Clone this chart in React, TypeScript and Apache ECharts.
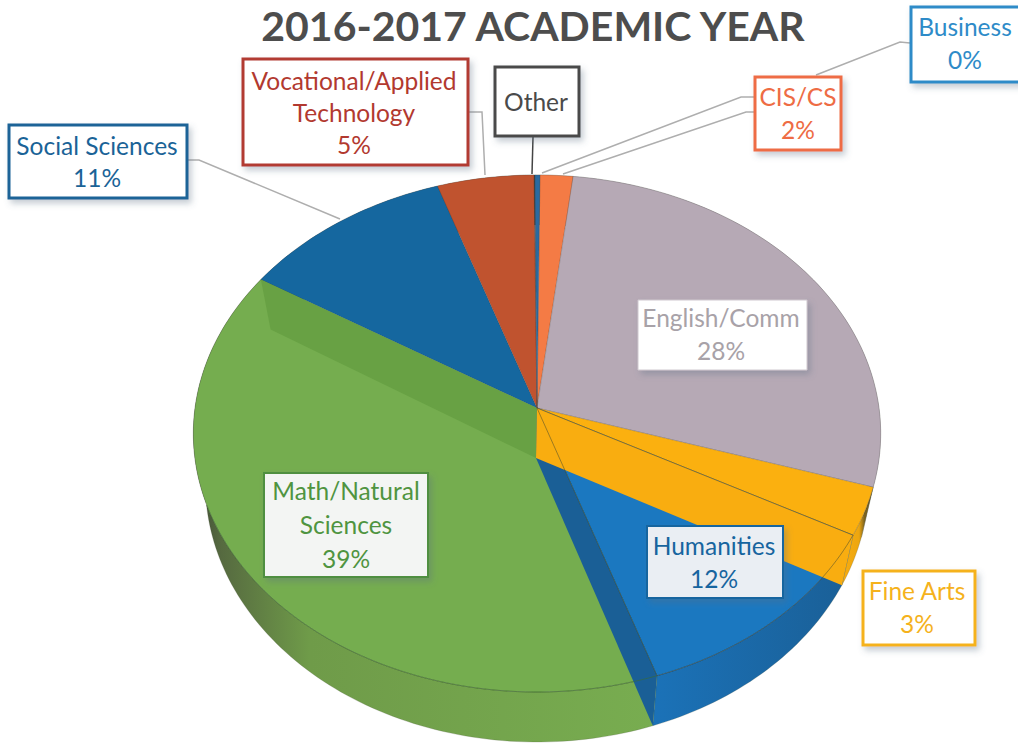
import React, { useEffect, useRef } from "react";
import * as echarts from "echarts";

const title = "2016-2017 ACADEMIC YEAR";
// Share of each slice, clockwise from the top. The two near-zero slivers are estimated.
const categories = ["CIS/CS", "English/Comm", "Fine Arts", "Humanities", "Math/Natural Sciences", "Social Sciences", "Vocational/Applied Technology", "Other", "Business"];
const values = [1.7, 28, 3, 12, 39, 11, 5, 0.05, 0.25];
const percentLabels = ["2%", "28%", "3%", "12%", "39%", "11%", "5%", "", "0%"];
const startShare = 0.15;
const topColors = ["#f47b45", "#b6a9b5", "#fbb00f", "#1b78c0", "#75ad4f", "#15679f", "#c0532f", "#444444", "#2a6aa0"];
const wallColors = ["", "", "#f9ad10", "#1a5f96", "#68a144", "", "", "", ""];

const FONT = "Lato, Carlito, 'Open Sans', sans-serif";

// Projection of the tilted disc
const G = { cx: 537, topY: 408, botY: 458, A: 342, Abot: 330, B: 256, p: 0.0986, depth: 50 };
const rim = (share: number, bottom: boolean): number[] => {
  const t = (share / 100) * Math.PI * 2;
  const X = Math.sin(t);
  const Y = Math.cos(t);
  const w = 1 + G.p * Y;
  return [G.cx + ((bottom ? G.Abot : G.A) * X) / w, (bottom ? G.botY : G.topY) - (G.B * Y) / w];
};
const arc = (a: number, b: number, bottom: boolean): number[][] => {
  const n = Math.max(2, Math.ceil((b - a) * 3));
  const out: number[][] = [];
  for (let i = 0; i <= n; i++) out.push(rim(a + ((b - a) * i) / n, bottom));
  return out;
};

const starts: number[] = [];
values.reduce((acc, v, i) => {
  starts[i] = acc;
  return acc + v;
}, startShare);
const sliceData = values.map((v, i) => ({ name: categories[i], value: [starts[i], starts[i] + v, i] }));

const stripFill = (i: number): any => {
  if (categories[i] === "Math/Natural Sciences")
    return new echarts.graphic.LinearGradient(0, 0, 1, 0, [
      { offset: 0, color: "#3f4a35" },
      { offset: 0.06, color: "#566a40" },
      { offset: 0.25, color: "#6f9b49" },
      { offset: 1, color: "#78ad50" },
    ]);
  if (categories[i] === "Humanities")
    return new echarts.graphic.LinearGradient(0, 0, 1, 0, [
      { offset: 0, color: "#1b72b8" },
      { offset: 1, color: "#1a5f96" },
    ]);
  if (categories[i] === "Fine Arts")
    return new echarts.graphic.LinearGradient(0, 0, 1, 0, [
      { offset: 0, color: "#f9ad10" },
      { offset: 0.55, color: "#eca60f" },
      { offset: 0.72, color: "#7d6320" },
      { offset: 1, color: "#5f5524" },
    ]);
  return topColors[i];
};

const customBase = { type: "custom", coordinateSystem: "none", silent: true, clip: false, animation: false };

const stripSeries = {
  ...customBase,
  z: 2,
  data: sliceData,
  renderItem: (_p: any, api: any) => {
    const a = api.value(0), b = api.value(1), i = api.value(2);
    const pts = [...arc(a, b, false), ...arc(a, b, true).reverse()];
    return { type: "polygon", shape: { points: pts }, style: { fill: stripFill(i), stroke: "rgba(70,80,60,0.35)", lineWidth: 0.6 } };
  },
};

const topSeries = {
  ...customBase,
  z: 3,
  data: sliceData,
  renderItem: (_p: any, api: any) => {
    const a = api.value(0), b = api.value(1), i = api.value(2);
    const pts = [[G.cx, G.topY], ...arc(a, b, false)];
    return { type: "polygon", shape: { points: pts }, style: { fill: topColors[i], stroke: "rgba(60,60,60,0.3)", lineWidth: 0.7 } };
  },
};

// Cut faces visible through the disc, back to front: Math, then Humanities, then Fine Arts.
const wallData = sliceData.filter((_d, i) => wallColors[i]).reverse();
const wallSeries = {
  ...customBase,
  z: 4,
  data: wallData,
  renderItem: (_p: any, api: any) => {
    const b = api.value(1), i = api.value(2);
    const pts = [[G.cx, G.topY], rim(b, false), rim(b, true), [G.cx - 1, G.botY]];
    return { type: "polygon", shape: { points: pts }, style: { fill: wallColors[i] } };
  },
};

const outlineData = sliceData.filter((d) => d.name === "Humanities" || d.name === "Math/Natural Sciences");
const outlineSeries = {
  ...customBase,
  z: 5,
  data: outlineData,
  renderItem: (_p: any, api: any) => {
    const a = api.value(0), b = api.value(1), i = api.value(2);
    if (categories[i] === "Humanities") {
      return { type: "polyline", shape: { points: [[G.cx, G.topY], ...arc(a, b, false), [G.cx, G.topY]] }, style: { fill: "none", stroke: "rgba(45,60,50,0.45)", lineWidth: 1 } };
    }
    return { type: "polyline", shape: { points: arc(a, a + (b - a) * 0.62, false) }, style: { fill: "none", stroke: "rgba(60,110,45,0.55)", lineWidth: 1 } };
  },
};

const box = (x: number, y: number, w: number, h: number, stroke: string, fill: string, lw = 3) => ({
  type: "rect",
  z: 20,
  silent: true,
  shape: { x, y, width: w, height: h },
  style: { fill, stroke, lineWidth: lw, shadowBlur: 6, shadowOffsetX: 3, shadowOffsetY: 4, shadowColor: "rgba(90,110,130,0.35)" },
});
const label = (cx: number, cy: number, text: string, fill: string, lh: number, size = 24.5) => ({
  type: "text",
  z: 21,
  silent: true,
  x: cx,
  y: cy,
  style: { text, fill, fontFamily: FONT, fontSize: size, lineHeight: lh, align: "center", verticalAlign: "middle" },
});
const leader = (points: number[][], stroke = "#aeaeae", lw = 1.5) => ({
  type: "polyline",
  z: 19,
  silent: true,
  shape: { points },
  style: { fill: "none", stroke, lineWidth: lw },
});
const text2 = (i: number) => `${categories[i]}\n${percentLabels[i]}`;

const graphics = [
  { type: "text", z: 21, silent: true, x: 533, y: 25, style: { text: title, fill: "#4d4d4d", fontFamily: FONT, fontSize: 41, fontWeight: "bold", align: "center", verticalAlign: "middle" } },
  leader([[187, 160], [199, 160], [340, 219]]),
  leader([[468, 112], [482, 112], [485, 175]]),
  leader([[533, 137], [532, 174]], "#444444", 1.5),
  leader([[755, 97], [741, 97], [542, 173]]),
  leader([[755, 112], [746, 112], [563, 174]]),
  leader([[910, 43], [900, 42], [816, 75]]),
  box(9, 125, 178, 73, "#1a6397", "#ffffff"),
  label(97, 161, text2(5), "#1a6397", 32),
  box(243, 59, 225, 106, "#b23b33", "#ffffff"),
  label(354, 112, "Vocational/Applied\nTechnology\n5%", "#b2392f", 32),
  box(495, 67, 84, 69, "#4a4a4a", "#ffffff"),
  label(536, 101, categories[7], "#4a4a4a", 32),
  box(755, 77, 86, 73, "#ee6c44", "#ffffff"),
  label(798, 113, text2(0), "#ee6c44", 33),
  box(911, 7, 130, 75, "#2e8bc8", "#ffffff"),
  label(965, 43, text2(8), "#2e8bc8", 33),
  box(638, 300, 169, 70, "#cfc8cf", "#ffffff", 1),
  label(721, 334, text2(1), "#a8a2a8", 33),
  box(647, 526, 136, 72, "#17659f", "#eaeef3", 2),
  label(714, 562, text2(3), "#17659f", 33),
  box(264, 473, 164, 104, "#4f8f40", "#f3f5f3", 2),
  label(346, 524, "Math/Natural\nSciences\n39%", "#4f9440", 34),
  box(863, 571, 112, 74, "#f5b21c", "#ffffff"),
  label(917, 607, text2(2), "#f5b21c", 33),
];

export default function App() {
  const ref = useRef<HTMLDivElement>(null);
  useEffect(() => {
    const chart = echarts.init(ref.current!, undefined, { renderer: "svg" });
    chart.setOption({
      animation: false,
      backgroundColor: "#ffffff",
      series: [stripSeries, topSeries, wallSeries, outlineSeries],
      graphic: { elements: graphics },
    } as any);
    return () => chart.dispose();
  }, []);
  return <div ref={ref} style={{ position: "absolute", left: 0, top: 0, width: 1018, height: 744, overflow: "hidden" }} />;
}
